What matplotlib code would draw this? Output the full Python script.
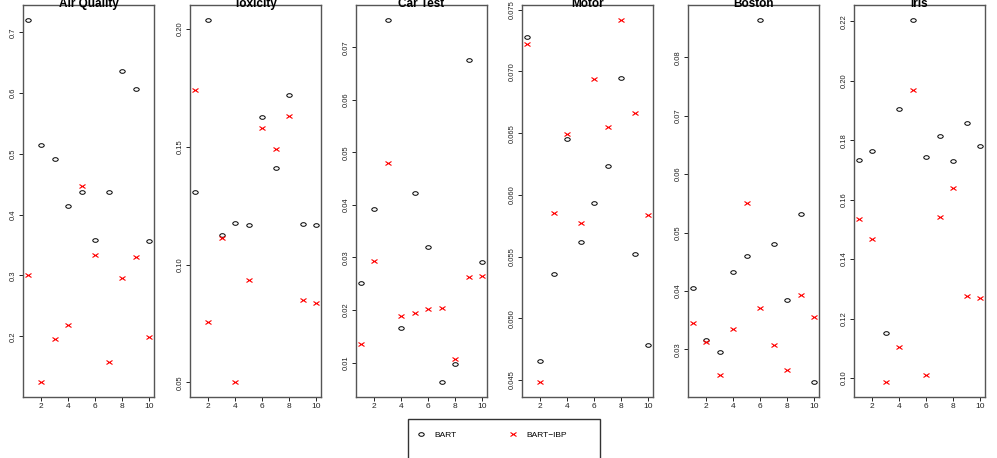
import numpy as np
import matplotlib.pyplot as plt
from matplotlib.markers import MarkerStyle
from matplotlib.transforms import Affine2D
from matplotlib.patches import Rectangle

plt.rcParams['font.family'] = ['Liberation Sans', 'DejaVu Sans']

runs = list(range(1, 11))
titles = ['Air Quality', 'Toxicity', 'Car Test', 'Motor', 'Boston', 'Iris']

bart = [
    [0.721, 0.514, 0.491, 0.415, 0.438, 0.359, 0.437, 0.636, 0.607, 0.357],
    [0.131, 0.204, 0.1125, 0.1176, 0.117, 0.1627, 0.1409, 0.172, 0.1174, 0.1169],
    [0.0252, 0.0392, 0.0753, 0.0165, 0.0422, 0.032, 0.0062, 0.0097, 0.0675, 0.0292],
    [0.0728, 0.0465, 0.0536, 0.0645, 0.0562, 0.0593, 0.0623, 0.0695, 0.0552, 0.0478],
    [0.0405, 0.0316, 0.0295, 0.0433, 0.0459, 0.0865, 0.048, 0.0385, 0.0532, 0.0243],
    [0.1733, 0.1763, 0.1152, 0.1906, 0.2206, 0.1745, 0.1815, 0.1729, 0.1857, 0.178],
]
bart_ibp = [
    [0.300, 0.124, 0.196, 0.218, 0.447, 0.334, 0.157, 0.296, 0.331, 0.199],
    [0.1739, 0.0758, 0.1114, 0.050, 0.0934, 0.1579, 0.149, 0.163, 0.085, 0.0839],
    [0.0135, 0.0294, 0.048, 0.0189, 0.0195, 0.0202, 0.0204, 0.0106, 0.0263, 0.0264],
    [0.0722, 0.0448, 0.0585, 0.0649, 0.0577, 0.0694, 0.0655, 0.0742, 0.0666, 0.0584],
    [0.0345, 0.0313, 0.0255, 0.0335, 0.0551, 0.037, 0.0307, 0.0264, 0.0393, 0.0355],
    [0.1536, 0.1469, 0.0985, 0.1104, 0.197, 0.101, 0.1543, 0.164, 0.1276, 0.127],
]
yticks = [
    ['0.2', '0.3', '0.4', '0.5', '0.6', '0.7'],
    ['0.05', '0.10', '0.15', '0.20'],
    ['0.01', '0.02', '0.03', '0.04', '0.05', '0.06', '0.07'],
    ['0.045', '0.050', '0.055', '0.060', '0.065', '0.070', '0.075'],
    ['0.03', '0.04', '0.05', '0.06', '0.07', '0.08'],
    ['0.10', '0.12', '0.14', '0.16', '0.18', '0.20', '0.22'],
]
xticks = [2, 4, 6, 8, 10]

W, H = 997, 458
fig = plt.figure(figsize=(W / 100, H / 100), dpi=100)

circ = MarkerStyle('o', fillstyle='none', transform=Affine2D().scale(1.5, 1.0))
cross = MarkerStyle('x', transform=Affine2D().scale(1.25, 1.0))

lefts = [23, 190, 356, 522, 688, 854]
for i, name in enumerate(titles):
    ax = fig.add_axes([lefts[i] / W, 1 - 397 / H, 131 / W, 392 / H])
    l1, = ax.plot(runs, bart[i], linestyle='none', marker=circ, markersize=2.6,
                  markeredgecolor='black', markeredgewidth=0.7, label='BART')
    l2, = ax.plot(runs, bart_ibp[i], linestyle='none', marker=cross, markersize=3.2,
                  markeredgecolor='#ff0000', markeredgewidth=0.8, label='BART\u2212IBP')
    # R style 4% padding
    lo = min(min(bart[i]), min(bart_ibp[i]))
    hi = max(max(bart[i]), max(bart_ibp[i]))
    pad = (hi - lo) * 0.04
    ax.set_ylim(lo - pad, hi + pad)
    ax.set_xlim(1 - 0.36, 10 + 0.36)
    ax.set_xticks(xticks, [str(t) for t in xticks], fontsize=6)
    ax.set_yticks([float(t) for t in yticks[i]], yticks[i], fontsize=5.5,
                  rotation=90, va='center')
    ax.tick_params(length=3, width=0.7, pad=1.5, colors='#222222')
    for s in ax.spines.values():
        s.set_color('#555555')
        s.set_linewidth(1.0)
    fig.text((lefts[i] + 65.5) / W, 1 - 7 / H, name, ha='center', va='baseline',
             fontsize=8.5, fontweight='bold')

# legend box runs off the bottom like the original
fig.add_artist(Rectangle((408 / W, -0.05), 192 / W, (1 - 419 / H) + 0.05,
                         transform=fig.transFigure, fill=False,
                         edgecolor='#333333', linewidth=1.0))
fig.legend([l1, l2], ['BART', 'BART\u2212IBP'], loc='center left',
           bbox_to_anchor=(417 / W, 1 - 435 / H), ncol=2, frameon=False,
           borderpad=0, borderaxespad=0, handlelength=1, handletextpad=1.1,
           columnspacing=6.2, fontsize=6)

fig.savefig('out.png', dpi=100)
